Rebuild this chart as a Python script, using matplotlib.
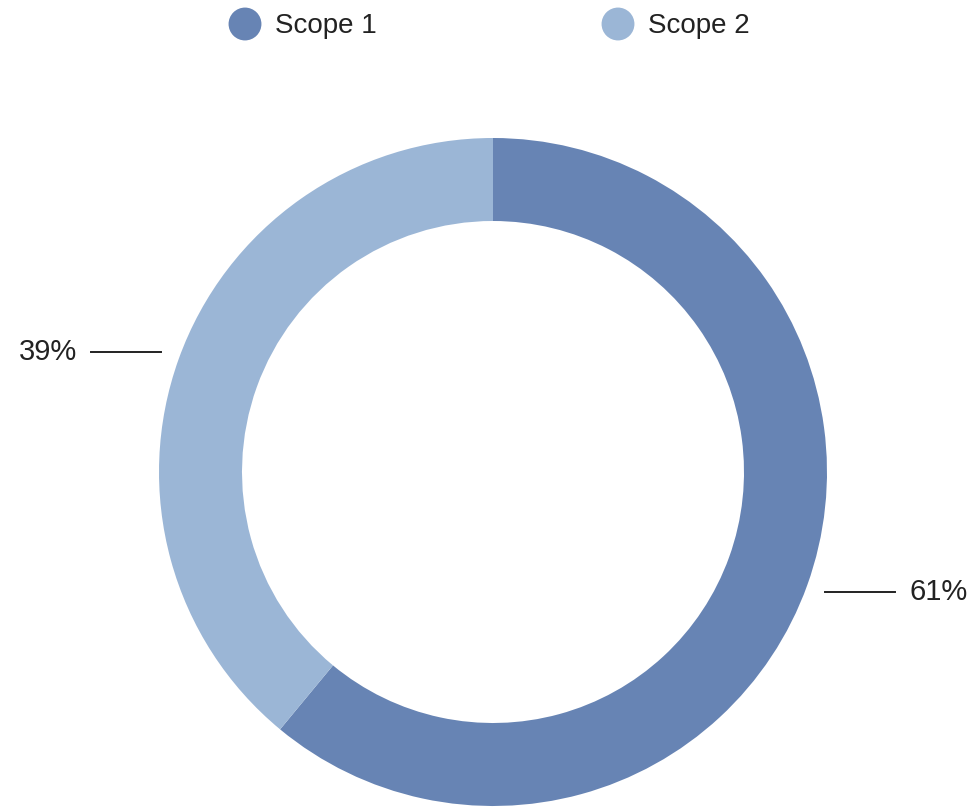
import numpy as np
import matplotlib.pyplot as plt

categories = ["Scope 1", "Scope 2"]
shares = [61, 39]
colors = ["#6784b4", "#9bb6d6"]

W, H = 972, 809
plt.rcParams['font.family'] = ['Liberation Sans', 'DejaVu Sans']

fig = plt.figure(figsize=(W / 100, H / 100), dpi=100)
ax = fig.add_axes([0, 0, 1, 1])

cx, cy = 493, H - 472
R = 334
ring = 83

wedges, _ = ax.pie(shares, colors=colors, startangle=90, counterclock=False,
                   radius=R, center=(cx, cy), frame=True,
                   wedgeprops=dict(width=ring, linewidth=0))
ax.set_xlim(0, W)
ax.set_ylim(0, H)
ax.set_aspect('equal')
ax.axis('off')

# percentage callouts with short horizontal leader lines
for w, val in zip(wedges, shares):
    mid = np.deg2rad((w.theta1 + w.theta2) / 2)
    side = np.sign(np.cos(mid))
    ex = cx + R * np.cos(mid)
    ey = cy + R * np.sin(mid) - 7 * side
    x0 = ex + side * 18
    x1 = x0 + side * 70
    ax.plot([x0, x1], [ey, ey], color="#222222", lw=1.4)
    ax.text(x1 + side * 14, ey, f"{val}%", ha='left' if side > 0 else 'right',
            va='center', fontsize=21, color="#222222")

# legend row
leg_x = [245, 618]
for x, lab, c in zip(leg_x, categories, colors):
    ax.scatter([x], [H - 24], s=560, color=c, edgecolors='none')
    ax.text(x + 30, H - 26, lab, ha='left', va='center', fontsize=20, color="#222222")

fig.savefig("out.png", dpi=100)
